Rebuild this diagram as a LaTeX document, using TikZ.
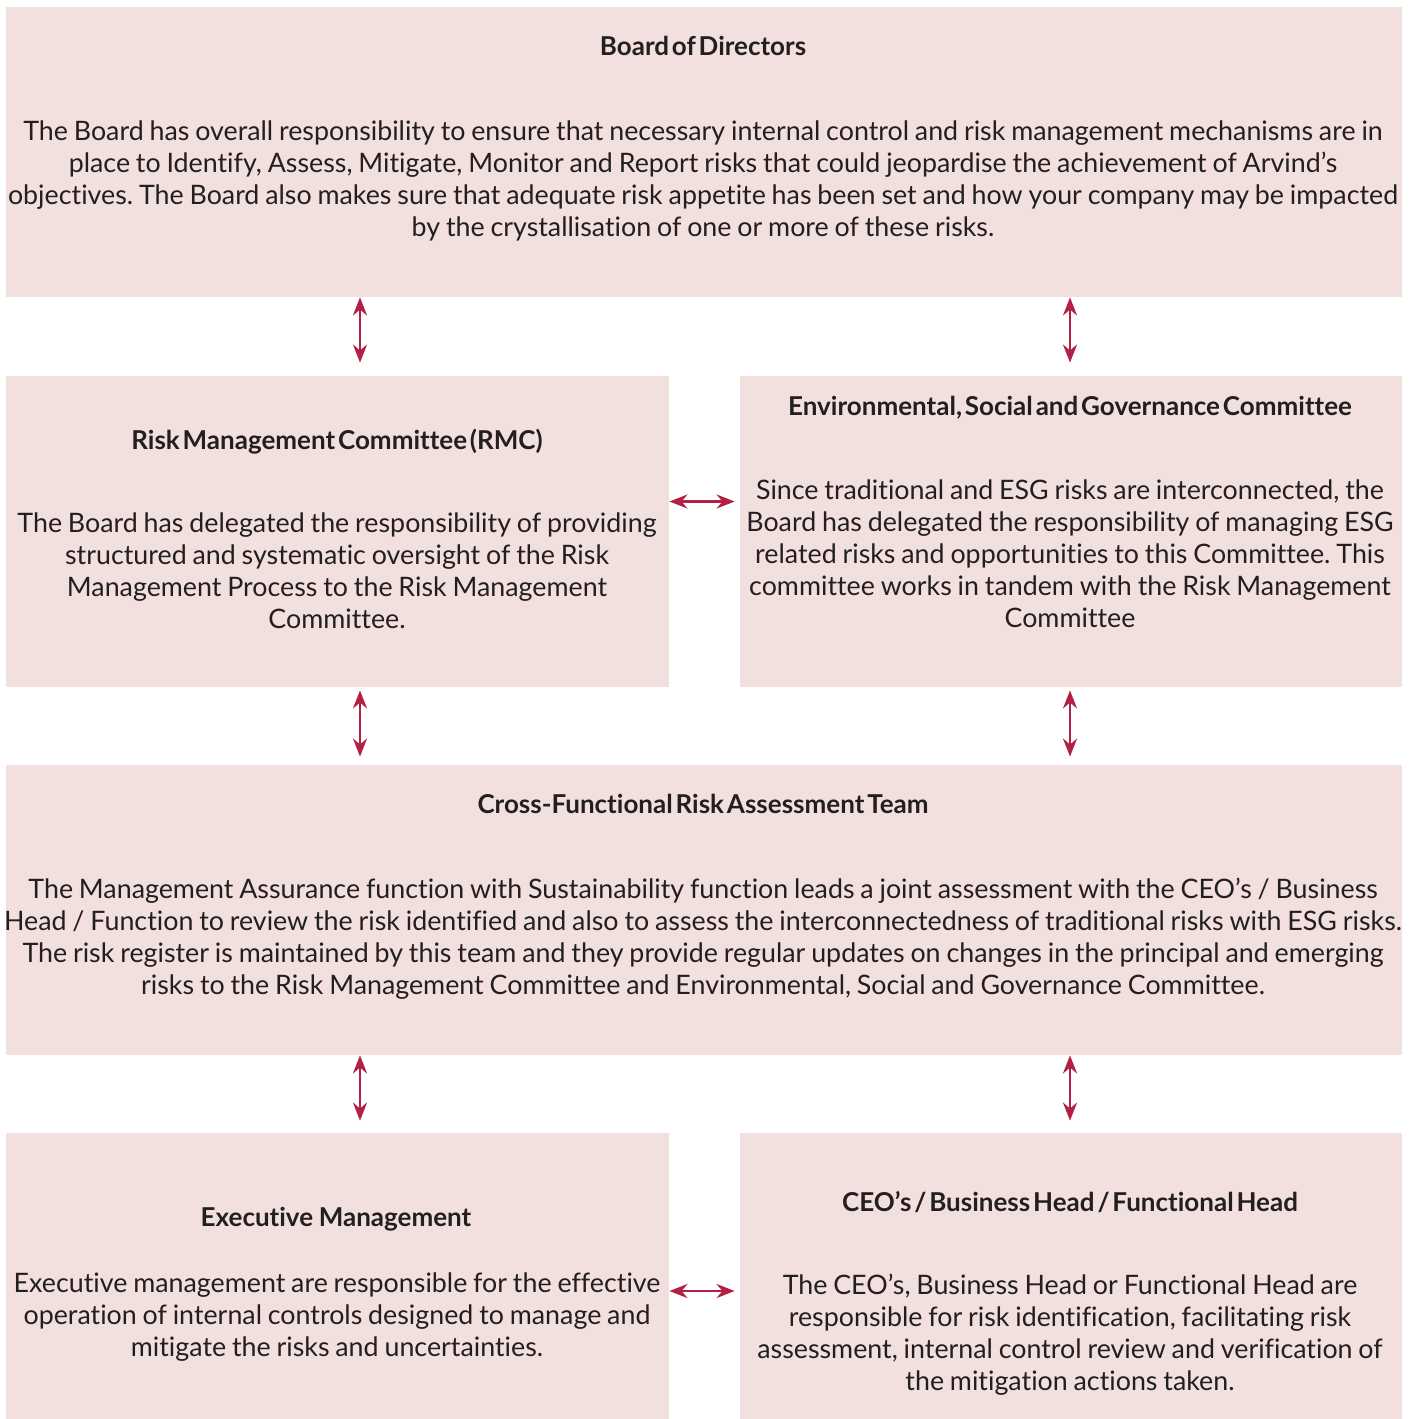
\documentclass[tikz,border=0pt]{standalone}
\usepackage{fontspec}
\setmainfont{Lato}[Ligatures=NoCommon, UprightFeatures={WordSpace=0.85}, BoldFeatures={WordSpace=0.45}]
\usetikzlibrary{arrows.meta}
\definecolor{boxpink}{HTML}{F2E0DF}
\definecolor{arrowred}{HTML}{B22145}
\definecolor{textdark}{HTML}{231F20}
\frenchspacing
\begin{document}
\begin{tikzpicture}[
    x=0.5pt, y=-0.5pt,
    panel/.style={rectangle, fill=boxpink, inner sep=0pt},
    heading/.style={inner sep=0pt, text=textdark, font=\fontsize{13}{16}\selectfont\bfseries},
    body/.style={inner sep=0pt, align=center, text=textdark, font=\fontsize{13.4}{16}\selectfont},
    link/.style={arrowred, line width=1.3pt, {Stealth[length=9pt,width=7pt]}-{Stealth[length=9pt,width=7pt]}}
  ]
    \useasboundingbox (0,0) rectangle (1414,1419);

    % Boxes
    \node[panel, minimum width=698pt, minimum height=145pt] (board) at (704,152) {};
    \node[panel, minimum width=331.5pt, minimum height=155.5pt] (rmc) at (337.5,531.5) {};
    \node[panel, minimum width=331pt, minimum height=155.5pt] (esg) at (1071,531.5) {};
    \node[panel, minimum width=698pt, minimum height=145pt] (team) at (704,910) {};
    \node[panel, minimum width=331.5pt, minimum height=143pt] (exec) at (337.5,1276) {};
    \node[panel, minimum width=331pt, minimum height=143pt] (ceo) at (1071,1276) {};

    % Titles
    \node[heading] (boardtitle) at (703,46) {Board of Directors};
    \node[heading] (rmctitle) at (337,442) {Risk Management Committee (RMC)};
    \node[heading] (esgtitle) at (1070,408) {Environmental, Social and Governance Committee};
    \node[heading] (teamtitle) at (703,804) {Cross-Functional Risk Assessment Team};
    \node[heading] (exectitle) at (336,1219) {Executive\ \ Management};
    \node[heading] (ceotitle) at (1070,1202) {CEO’s / Business Head / Functional Head};

    % Texts
    \node[body] (boardtext) at (703,181) {The Board has overall responsibility to ensure that necessary internal control and risk management mechanisms are in\\
      place to Identify, Assess, Mitigate, Monitor and Report risks that could jeopardise the achievement of Arvind’s\\
      objectives. The Board also makes sure that adequate risk appetite has been set and how your company may be impacted\\
      by the crystallisation of one or more of these risks.};
    \node[body] (rmctext) at (337,571) {The Board has delegated the responsibility of providing\\
      structured and systematic oversight of the Risk\\
      Management Process to the Risk Management\\
      Committee.};
    \node[body] (esgtext) at (1070,553.5) {Since traditional and ESG risks are interconnected, the\\
      Board has delegated the responsibility of managing ESG\\
      related risks and opportunities to this Committee. This\\
      committee works in tandem with the Risk Management\\
      Committee};
    \node[body] (teamtext) at (703,939) {The Management Assurance function with Sustainability function leads a joint assessment with the CEO’s / Business\\
      Head / Function to review the risk identified and also to assess the interconnectedness of traditional risks with ESG risks.\\
      The risk register is maintained by this team and they provide regular updates on changes in the principal and emerging\\
      risks to the Risk Management Committee and Environmental, Social and Governance Committee.};
    \node[body] (exectext) at (337,1317) {Executive management are responsible for the effective\\
      operation of internal controls designed to manage and\\
      mitigate the risks and uncertainties.};
    \node[body] (ceotext) at (1070,1335) {The CEO’s, Business Head or Functional Head are\\
      responsible for risk identification, facilitating risk\\
      assessment, internal control review and verification of\\
      the mitigation actions taken.};

    % Arrows
    \draw[link, shorten >=6.5pt] ([xshift=11.25pt]rmc.north |- board.south) -- ([xshift=11.25pt]rmc.north);
    \draw[link, shorten >=6.5pt] ([xshift=-0.5pt]esg.north |- board.south) -- ([xshift=-0.5pt]esg.north);
    \draw[link, shorten <=1.5pt, shorten >=4pt] ([xshift=11.25pt]rmc.south) -- ([xshift=11.25pt]rmc.south |- team.north);
    \draw[link, shorten <=1.5pt, shorten >=4pt] ([xshift=-0.5pt]esg.south) -- ([xshift=-0.5pt]esg.south |- team.north);
    \draw[link, shorten >=6pt] ([xshift=11.25pt]exec.north |- team.south) -- ([xshift=11.25pt]exec.north);
    \draw[link, shorten >=6pt] ([xshift=-0.5pt]ceo.north |- team.south) -- ([xshift=-0.5pt]ceo.north);
    \draw[link, shorten >=2.5pt] ([yshift=15pt]rmc.east) -- ([yshift=15pt]esg.west);
    \draw[link, shorten >=2.5pt] ([yshift=-7.5pt]exec.east) -- ([yshift=-7.5pt]ceo.west);
  \end{tikzpicture}
\end{document}
